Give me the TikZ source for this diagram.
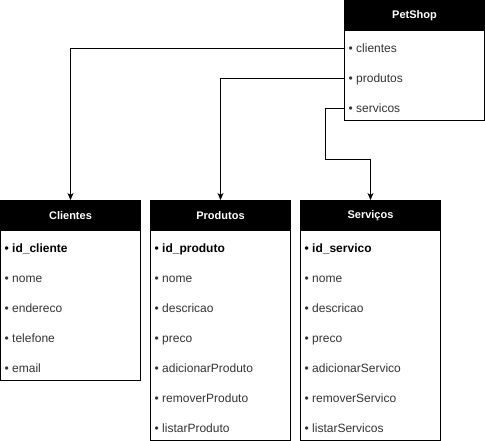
\documentclass[tikz,border=0pt]{standalone}
\usepackage{fontspec}
\setmainfont{Liberation Sans}
\usetikzlibrary{positioning}
\usetikzlibrary{arrows.meta}

\tikzset{
  classbox/.style={draw, line width=1pt, minimum width=140pt, inner sep=0pt},
  classhead/.style={draw, fill=black, text=white, line width=1pt, minimum width=140pt, minimum height=30pt, inner sep=0pt, font=\fontsize{11}{13}\selectfont\bfseries},
  item/.style={anchor=west, inner xsep=4pt, inner ysep=0pt, text height=8.6pt, text depth=2.5pt, text=black!80, font=\fontsize{12}{14}\selectfont},
  keyitem/.style={item, text=black, font=\fontsize{12}{14}\selectfont\bfseries},
  link/.style={line width=1pt, -{Stealth[length=7pt, width=6pt, inset=2pt]}},
}

\begin{document}
\begin{tikzpicture}[x=1pt, y=-1pt]
	\useasboundingbox (0,0) rectangle (485,441);
	
	% PetShop
	\node[classbox, minimum height=120pt] (petshopbox) at (414.5,60.5) {};
	\node[classhead] (petshop) at (414.5,15.5) {PetShop};
	\node[item] (pclientes) at (344.5,49) {• clientes};
	\node[item] (pprodutos) at (344.5,79) {• produtos};
	\node[item] (pservicos) at (344.5,109) {• servicos};
	
	% Clientes
	\node[classbox, minimum height=180pt] (clientesbox) at (70.5,290.5) {};
	\node[classhead] (clientes) at (70.5,215.5) {Clientes};
	\node[keyitem] (cid) at (0.5,249) {• id\_cliente};
	\node[item] (cnome) at (0.5,279) {• nome};
	\node[item] (cendereco) at (0.5,309) {• endereco};
	\node[item] (ctelefone) at (0.5,339) {• telefone};
	\node[item] (cemail) at (0.5,369) {• email};
	
	% Produtos
	\node[classbox, minimum height=240pt] (produtosbox) at (220.5,320.5) {};
	\node[classhead] (produtos) at (220.5,215.5) {Produtos};
	\node[keyitem] (pid) at (150.5,249) {• id\_produto};
	\node[item] (pnome) at (150.5,279) {• nome};
	\node[item] (pdescricao) at (150.5,309) {• descricao};
	\node[item] (ppreco) at (150.5,339) {• preco};
	\node[item] (padicionar) at (150.5,369) {• adicionarProduto};
	\node[item] (premover) at (150.5,399) {• removerProduto};
	\node[item] (plistar) at (150.5,429) {• listarProduto};
	
	% Servicos
	\node[classbox, minimum height=240pt] (servicosbox) at (370.5,320.5) {};
	\node[classhead] (servicos) at (370.5,215.5) {Serviços};
	\node[keyitem] (sid) at (300.5,249) {• id\_servico};
	\node[item] (snome) at (300.5,279) {• nome};
	\node[item] (sdescricao) at (300.5,309) {• descricao};
	\node[item] (spreco) at (300.5,339) {• preco};
	\node[item] (sadicionar) at (300.5,369) {• adicionarServico};
	\node[item] (sremover) at (300.5,399) {• removerServico};
	\node[item] (slistar) at (300.5,429) {• listarServicos};
	
	\coordinate (bend) at (325.5,160);
	
	\draw[link] (pclientes.west) -| (clientes.north);
	\draw[link] (pprodutos.west) -| (produtos.north);
	\draw[link] (pservicos.west) -| (bend) -| (servicos.north);
	
\end{tikzpicture}
\end{document}
